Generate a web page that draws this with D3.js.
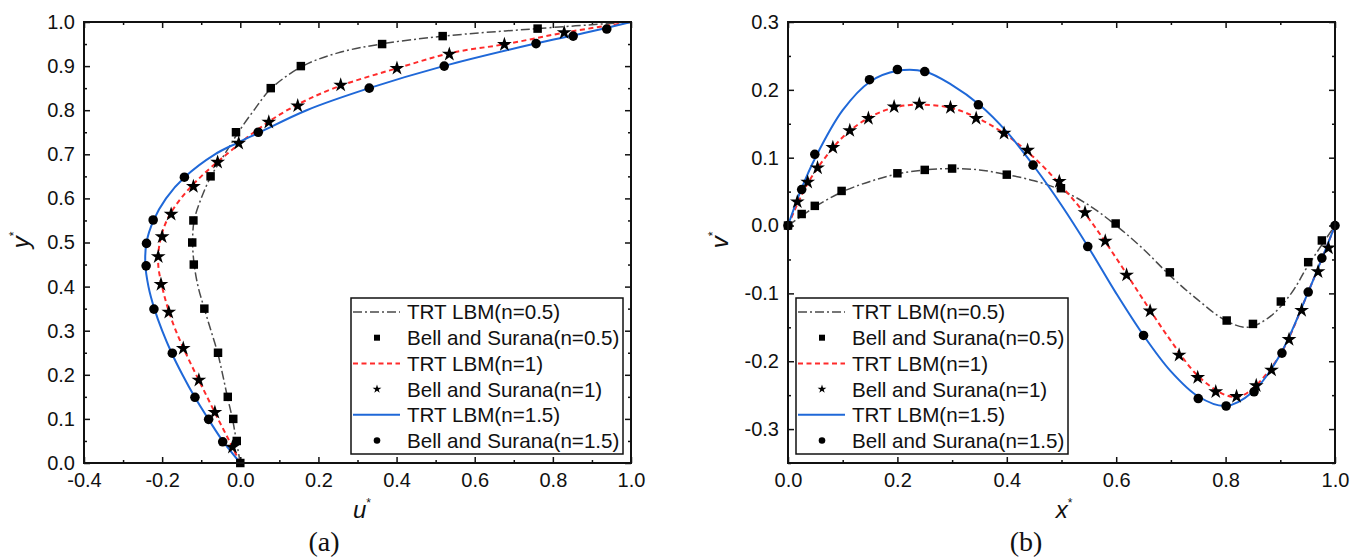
<!DOCTYPE html>
<html>
<head>
<meta charset="utf-8">
<script src="https://cdn.jsdelivr.net/npm/d3@7"></script>
<style>
  body { margin: 0; background: #fff; }
  svg text { font-family: Arial, "Liberation Sans", sans-serif; fill: #111; }
</style>
</head>
<body>
<svg id="vis"></svg>
<script>
// ---- data ----
// (a) u* along vertical centreline: [u, y]
const uLbm05 = [[0.0,0.0],[-0.01,0.05],[-0.02,0.1],[-0.033,0.15],[-0.045,0.2],[-0.058,0.25],[-0.075,0.3],[-0.092,0.35],
  [-0.108,0.4],[-0.118,0.45],[-0.122,0.5],[-0.118,0.55],[-0.1,0.6],[-0.075,0.65],[-0.04,0.7],[-0.005,0.75],[0.035,0.8],
  [0.08,0.85],[0.16,0.9],[0.25,0.93],[0.36,0.95],[0.52,0.968],[0.76,0.985],[1.0,1.0]];
const uLbm1 = [[0.0,0.0],[-0.028,0.05],[-0.057,0.1],[-0.085,0.15],[-0.113,0.2],[-0.14,0.25],[-0.165,0.3],[-0.185,0.35],
  [-0.2,0.4],[-0.21,0.45],[-0.206,0.5],[-0.188,0.55],[-0.152,0.6],[-0.1,0.65],[-0.035,0.7],[0.035,0.75],[0.12,0.8],
  [0.24,0.85],[0.42,0.9],[0.54,0.93],[0.68,0.95],[0.83,0.976],[1.0,1.0]];
const uLbm15 = [[0.0,0.0],[-0.045,0.05],[-0.082,0.1],[-0.117,0.15],[-0.148,0.2],[-0.176,0.25],[-0.2,0.3],[-0.22,0.35],
  [-0.235,0.4],[-0.243,0.45],[-0.24,0.5],[-0.222,0.55],[-0.19,0.6],[-0.14,0.65],[-0.065,0.7],[-0.01,0.725],[0.05,0.75],
  [0.17,0.8],[0.33,0.85],[0.52,0.9],[0.75,0.95],[0.88,0.975],[1.0,1.0]];

const uBell05 = [[0.0,0.0],[-0.009,0.05],[-0.018,0.1],[-0.032,0.15],[-0.057,0.25],[-0.092,0.35],[-0.119,0.45],[-0.123,0.5],
  [-0.12,0.55],[-0.076,0.65],[-0.011,0.75],[0.078,0.85],[0.155,0.9],[0.363,0.95],[0.518,0.968],[0.761,0.985]];
const uBell1 = [[-0.02,0.036],[-0.065,0.115],[-0.106,0.188],[-0.146,0.26],[-0.183,0.342],[-0.203,0.405],[-0.21,0.468],
  [-0.2,0.513],[-0.177,0.564],[-0.12,0.627],[-0.058,0.682],[-0.004,0.725],[0.073,0.773],[0.147,0.81],[0.257,0.857],
  [0.401,0.895],[0.535,0.927],[0.676,0.949],[0.829,0.976]];
const uBell15 = [[-0.045,0.048],[-0.081,0.099],[-0.116,0.149],[-0.174,0.249],[-0.221,0.349],[-0.241,0.447],[-0.24,0.498],
  [-0.223,0.551],[-0.143,0.648],[0.046,0.75],[0.33,0.85],[0.522,0.9],[0.757,0.951],[0.852,0.968],[0.938,0.984]];

// (b) v* along horizontal centreline: [x, v]
const vLbm05 = [[0,0],[0.025,0.014],[0.05,0.028],[0.1,0.05],[0.15,0.065],[0.2,0.076],[0.25,0.082],[0.3,0.084],[0.35,0.082],
  [0.4,0.075],[0.45,0.066],[0.5,0.052],[0.55,0.03],[0.6,0.0],[0.65,-0.035],[0.7,-0.075],[0.75,-0.11],[0.8,-0.14],
  [0.84,-0.15],[0.88,-0.135],[0.92,-0.1],[0.95,-0.06],[1.0,0.0]];
const vLbm1 = [[0,0],[0.025,0.045],[0.05,0.08],[0.1,0.13],[0.15,0.16],[0.2,0.175],[0.25,0.178],[0.3,0.173],[0.35,0.157],
  [0.4,0.133],[0.45,0.1],[0.5,0.058],[0.55,0.01],[0.6,-0.048],[0.65,-0.11],[0.7,-0.17],[0.75,-0.222],[0.8,-0.25],
  [0.825,-0.252],[0.85,-0.24],[0.9,-0.19],[0.95,-0.1],[1.0,0.0]];
const vLbm15 = [[0,0],[0.025,0.055],[0.05,0.1],[0.1,0.17],[0.15,0.212],[0.2,0.228],[0.25,0.227],[0.3,0.207],[0.35,0.178],
  [0.4,0.138],[0.45,0.087],[0.5,0.03],[0.55,-0.033],[0.6,-0.1],[0.65,-0.162],[0.7,-0.215],[0.75,-0.252],[0.8,-0.266],
  [0.85,-0.245],[0.9,-0.19],[0.95,-0.1],[1.0,0.0]];

const vBell05 = [[0,0],[0.025,0.017],[0.049,0.029],[0.098,0.051],[0.2,0.077],[0.25,0.082],[0.3,0.084],[0.4,0.075],
  [0.499,0.055],[0.599,0.003],[0.698,-0.069],[0.802,-0.14],[0.85,-0.145],[0.901,-0.112],[0.951,-0.054],[0.976,-0.022]];
const vBell1 = [[0.017,0.035],[0.036,0.064],[0.054,0.085],[0.082,0.115],[0.113,0.14],[0.147,0.158],[0.194,0.175],
  [0.24,0.179],[0.297,0.174],[0.344,0.158],[0.395,0.136],[0.438,0.111],[0.496,0.065],[0.543,0.019],[0.58,-0.023],
  [0.619,-0.073],[0.662,-0.126],[0.715,-0.191],[0.749,-0.224],[0.782,-0.245],[0.82,-0.252],[0.856,-0.236],
  [0.884,-0.213],[0.916,-0.168],[0.939,-0.125],[0.969,-0.068],[0.988,-0.033]];
const vBell15 = [[0,0],[0.025,0.053],[0.049,0.105],[0.149,0.215],[0.2,0.23],[0.25,0.227],[0.348,0.178],[0.448,0.089],
  [0.548,-0.031],[0.65,-0.162],[0.75,-0.255],[0.801,-0.266],[0.852,-0.245],[0.903,-0.188],[0.951,-0.098],[0.976,-0.048],[1.0,0.0]];

const legendLabels = ["TRT LBM(n=0.5)", "Bell and Surana(n=0.5)", "TRT LBM(n=1)",
  "Bell and Surana(n=1)", "TRT LBM(n=1.5)", "Bell and Surana(n=1.5)"];

const aXTicks = [-0.4, -0.2, 0.0, 0.2, 0.4, 0.6, 0.8, 1.0];
const aYTicks = [0.0, 0.1, 0.2, 0.3, 0.4, 0.5, 0.6, 0.7, 0.8, 0.9, 1.0];
const bXTicks = [0.0, 0.2, 0.4, 0.6, 0.8, 1.0];
const bYTicks = [-0.3, -0.2, -0.1, 0.0, 0.1, 0.2, 0.3];

// ---- layout ----
let config = { svg: {}, a: {}, b: {} };
config.svg.width = 1353;
config.svg.height = 560;

config.a.plot = { x: 84, y: 22, width: 547, height: 441 };
config.a.legend = { x: 351, y: 298, width: 272, height: 156 };
config.a.xDomain = [-0.4, 1.0];
config.a.yDomain = [0, 1];

config.b.plot = { x: 788, y: 22, width: 547, height: 441 };
config.b.legend = { x: 796, y: 298, width: 272, height: 156 };
config.b.xDomain = [0, 1];
config.b.yDomain = [-0.35, 0.3];

const styles = [
  { stroke: "#4a4a4a", width: 1.5, dash: "9,3,2,3", mark: d3.symbolSquare, size: 72, legendSize: 36 },
  { stroke: "#ff2b2b", width: 2, dash: "5,3.5", mark: d3.symbolStar, size: 68, legendSize: 24 },
  { stroke: "#1f68d8", width: 2, dash: null, mark: d3.symbolCircle, size: 72, legendSize: 34 }
];

const svg = d3.select("svg#vis")
  .attr("width", config.svg.width)
  .attr("height", config.svg.height);

svg.append("rect")
  .attr("width", config.svg.width)
  .attr("height", config.svg.height)
  .attr("fill", "#fff");

drawPanel(config.a, [uLbm05, uLbm1, uLbm15], [uBell05, uBell1, uBell15],
  aXTicks, aYTicks, 0.1, 0.05);
drawPanel(config.b, [vLbm05, vLbm1, vLbm15], [vBell05, vBell1, vBell15],
  bXTicks, bYTicks, 0.1, 0.05);

drawTitles();

function drawPanel(cfg, lines, marks, xTicks, yTicks, xStep, yStep) {
  let p = cfg.plot;
  let x = d3.scaleLinear().domain(cfg.xDomain).range([0, p.width]);
  let y = d3.scaleLinear().domain(cfg.yDomain).range([p.height, 0]);

  let g = svg.append("g").attr("transform", translate(p.x, p.y));

  let xMinor = d3.range(cfg.xDomain[0], cfg.xDomain[1] + 1e-9, xStep).map(d => +d.toFixed(3))
    .filter(d => !xTicks.some(t => Math.abs(t - d) < 1e-6));
  let yMinor = d3.range(cfg.yDomain[0], cfg.yDomain[1] + 1e-9, yStep).map(d => +d.toFixed(3))
    .filter(d => !yTicks.some(t => Math.abs(t - d) < 1e-6));

  let fmt = d => d.toFixed(1);

  addAxis(g, d3.axisBottom(x).tickValues(xTicks).tickSize(-6).tickPadding(10).tickFormat(fmt), 0, p.height);
  addAxis(g, d3.axisBottom(x).tickValues(xMinor).tickSize(-3).tickFormat(""), 0, p.height);
  addAxis(g, d3.axisTop(x).tickValues(xTicks).tickSize(-6).tickFormat(""), 0, 0);
  addAxis(g, d3.axisTop(x).tickValues(xMinor).tickSize(-3).tickFormat(""), 0, 0);
  addAxis(g, d3.axisLeft(y).tickValues(yTicks).tickSize(-6).tickPadding(9).tickFormat(fmt), 0, 0);
  addAxis(g, d3.axisLeft(y).tickValues(yMinor).tickSize(-3).tickFormat(""), 0, 0);
  addAxis(g, d3.axisRight(y).tickValues(yTicks).tickSize(-6).tickFormat(""), p.width, 0);
  addAxis(g, d3.axisRight(y).tickValues(yMinor).tickSize(-3).tickFormat(""), p.width, 0);

  let line = d3.line()
    .x(d => x(d[0]))
    .y(d => y(d[1]))
    .curve(d3.curveCatmullRom.alpha(0.5));

  lines.forEach((data, i) => {
    g.append("path")
      .datum(data)
      .attr("d", line)
      .attr("fill", "none")
      .attr("stroke", styles[i].stroke)
      .attr("stroke-width", styles[i].width)
      .attr("stroke-dasharray", styles[i].dash);
  });

  marks.forEach((data, i) => {
    g.append("g").selectAll("path")
      .data(data)
      .enter()
      .append("path")
      .attr("transform", d => translate(x(d[0]), y(d[1])))
      .attr("d", d3.symbol().type(styles[i].mark).size(styles[i].size))
      .attr("fill", "#000");
  });

  g.append("rect")
    .attr("width", p.width)
    .attr("height", p.height)
    .attr("fill", "none")
    .attr("stroke", "#111")
    .attr("stroke-width", 2);

  drawLegend(cfg.legend);
}

function addAxis(g, axis, tx, ty) {
  let a = g.append("g")
    .attr("transform", translate(tx, ty))
    .call(axis);
  a.select(".domain").remove();
  a.selectAll(".tick line").attr("stroke", "#111").attr("stroke-width", 1.5);
  a.selectAll("text")
    .attr("font-family", "Arial, 'Liberation Sans', sans-serif")
    .attr("font-size", "20px")
    .attr("fill", "#222");
  return a;
}

function drawLegend(l) {
  let legend = svg.append("g").attr("transform", translate(l.x, l.y));

  legend.append("rect")
    .attr("width", l.width)
    .attr("height", l.height)
    .attr("fill", "#fff")
    .attr("stroke", "#111")
    .attr("stroke-width", 1.5);

  legendLabels.forEach((label, i) => {
    let cy = 14 + i * 25.7;
    let s = styles[Math.floor(i / 2)];

    if (i % 2 === 0) {
      legend.append("line")
        .attr("x1", 2).attr("x2", 49)
        .attr("y1", cy).attr("y2", cy)
        .attr("stroke", s.stroke)
        .attr("stroke-width", s.width)
        .attr("stroke-dasharray", s.dash);
    } else {
      legend.append("path")
        .attr("transform", translate(26, cy))
        .attr("d", d3.symbol().type(s.mark).size(s.legendSize))
        .attr("fill", "#000");
    }

    legend.append("text")
      .attr("x", 56)
      .attr("y", cy)
      .attr("dy", "0.36em")
      .attr("font-size", "20.6px")
      .text(label);
  });
}

function drawTitles() {
  let axisLabel = (x, y, letter, rotate) => {
    let t = svg.append("text")
      .attr("transform", translate(x, y) + (rotate ? " rotate(-90)" : ""))
      .attr("text-anchor", "middle")
      .attr("font-size", "24px")
      .attr("font-style", "italic");
    t.append("tspan").text(letter);
    t.append("tspan")
      .attr("font-size", "12px")
      .attr("font-style", "normal")
      .attr("dy", "-0.9em")
      .text("*");
  };

  axisLabel(362, 518, "u", false);
  axisLabel(1064, 518, "x", false);
  axisLabel(29, 240, "y", true);
  axisLabel(728, 240, "v", true);

  svg.append("text")
    .text("(a)")
    .attr("x", 324)
    .attr("y", 551)
    .attr("text-anchor", "middle")
    .style("font-family", "'Liberation Serif', 'DejaVu Serif', serif")
    .attr("font-size", "28px");

  svg.append("text")
    .text("(b)")
    .attr("x", 1026)
    .attr("y", 551)
    .attr("text-anchor", "middle")
    .style("font-family", "'Liberation Serif', 'DejaVu Serif', serif")
    .attr("font-size", "28px");
}

function translate(x, y) {
  return 'translate(' + x + ',' + y + ')';
}
</script>
</body>
</html>
